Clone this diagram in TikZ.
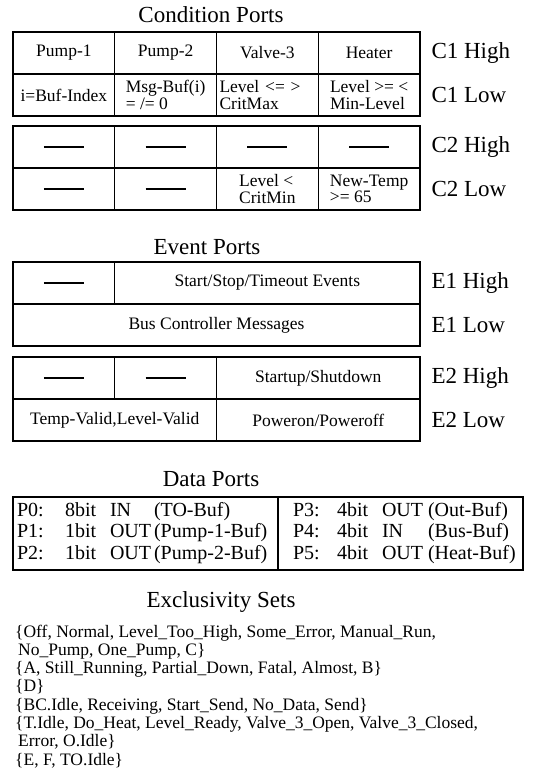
\documentclass[tikz,border=0pt]{standalone}
\usepackage{fontspec}
\setmainfont{Liberation Serif}
\newcommand{\emptymark}{\rule{40pt}{2.6pt}}
\begin{document}
\begin{tikzpicture}[x=1pt,y=-1pt,
  title/.style={font=\fontsize{23}{26}\selectfont},
  lab/.style={font=\fontsize{23}{26}\selectfont, anchor=west},
  cell/.style={draw, line width=1.2pt, minimum height=42pt, inner sep=0pt,
    font=\fontsize{17.5}{16.5}\selectfont, align=center},
  two/.style={align=left},
  ptxt/.style={font=\fontsize{20}{21.5}\selectfont},
  etxt/.style={font=\fontsize{17.5}{18}\selectfont, anchor=base west, inner sep=0pt}
]
\useasboundingbox (0,0) rectangle (536,771);

% ---------------- Condition Ports
\node[title] (tc) at (211,15) {Condition Ports};
\node[cell, minimum width=101.75pt] (c11) at (63.875,53) {Pump-1};
\node[cell, minimum width=101.75pt] (c12) at (165.625,53) {Pump-2};
\node[cell, minimum width=101.75pt] (c13) at (267.375,53) {Valve-3};
\node[cell, minimum width=101.75pt] (c14) at (369.125,53) {Heater};
\node[cell, minimum width=101.75pt] (c15) at (63.875,95) {i=Buf-Index};
\node[cell, two, minimum width=101.75pt] (c16) at (165.625,95) {Msg-Buf(i)\\= /= 0};
\node[cell, two, text width=95.75pt, inner xsep=3pt] (c17) at (267.375,95) {Level <= >\\CritMax};
\node[cell, two, minimum width=101.75pt] (c18) at (369.125,95) {Level >= <\\Min-Level};
\node[lab] (l1) at (428,53) {C1 High};
\node[lab] (l2) at (428,95) {C1 Low};

\node[cell, minimum width=101.75pt] (c21) at (63.875,147) {\emptymark};
\node[cell, minimum width=101.75pt] (c22) at (165.625,147) {\emptymark};
\node[cell, minimum width=101.75pt] (c23) at (267.375,147) {\emptymark};
\node[cell, minimum width=101.75pt] (c24) at (369.125,147) {\emptymark};
\node[cell, minimum width=101.75pt] (c25) at (63.875,189) {\emptymark};
\node[cell, minimum width=101.75pt] (c26) at (165.625,189) {\emptymark};
\node[cell, two, minimum width=101.75pt] (c27) at (267.375,189) {Level <\\CritMin};
\node[cell, two, minimum width=101.75pt] (c28) at (369.125,189) {New-Temp\\>= 65};
\node[lab] (l3) at (428,147) {C2 High};
\node[lab] (l4) at (428,189) {C2 Low};

% ---------------- Event Ports
\node[title] (te) at (207,247) {Event Ports};
\node[cell, minimum width=101.75pt] (e11) at (63.875,283) {\emptymark};
\node[cell, minimum width=305.25pt] (e12) at (267.375,283) {Start/Stop/Timeout Events};
\node[cell, minimum width=407pt] (e13) at (216.5,325) {Bus Controller Messages};
\node[lab] (l5) at (428,283) {E1 High};
\node[lab] (l6) at (428,325) {E1 Low};

\node[cell, minimum width=101.75pt] (e21) at (63.875,378) {\emptymark};
\node[cell, minimum width=101.75pt] (e22) at (165.625,378) {\emptymark};
\node[cell, minimum width=203.5pt] (e23) at (318.25,378) {Startup/Shutdown};
\node[cell, minimum width=203.5pt] (e24) at (114.75,420) {Temp-Valid,Level-Valid};
\node[cell, minimum width=203.5pt] (e25) at (318.25,420) {Poweron/Poweroff};
\node[lab] (l7) at (428,378) {E2 High};
\node[lab] (l8) at (428,420) {E2 Low};

% ---------------- Data Ports
\node[title] (td) at (211,479) {Data Ports};
\node[cell, ptxt, align=left, text width=257pt, inner xsep=4pt, minimum height=73pt] (d1) at (145.5,533.5)
 {\begin{tabular}{@{}p{48pt}@{}p{45pt}@{}p{44pt}@{}l@{}}
  P0: & 8bit & IN & (TO-Buf)\\
  P1: & 1bit & OUT & (Pump-1-Buf)\\
  P2: & 1bit & OUT & (Pump-2-Buf)
  \end{tabular}};
\node[cell, ptxt, align=left, text width=215pt, inner xsep=15pt, minimum height=73pt] (d2) at (400.5,533.5)
 {\begin{tabular}{@{}p{44pt}@{}p{45pt}@{}p{46pt}@{}l@{}}
  P3: & 4bit & OUT & (Out-Buf)\\
  P4: & 4bit & IN & (Bus-Buf)\\
  P5: & 4bit & OUT & (Heat-Buf)
  \end{tabular}};

% ---------------- Exclusivity Sets
\node[title] (tx) at (221,602) {Exclusivity Sets};
\node[etxt] (x1) at (15,637) {\{Off, Normal, Level\_Too\_High, Some\_Error, Manual\_Run,};
\node[etxt] (x2) at (18,655.3) {No\_Pump, One\_Pump, C\}};
\node[etxt] (x3) at (15,673.6) {\{A, Still\_Running, Partial\_Down, Fatal, Almost, B\}};
\node[etxt] (x4) at (15,691.9) {\{D\}};
\node[etxt] (x5) at (15,710.2) {\{BC.Idle, Receiving, Start\_Send, No\_Data, Send\}};
\node[etxt] (x6) at (15,728.5) {\{T.Idle, Do\_Heat, Level\_Ready, Valve\_3\_Open, Valve\_3\_Closed,};
\node[etxt] (x7) at (18,746.8) {Error, O.Idle\}};
\node[etxt] (x8) at (15,765.1) {\{E, F, TO.Idle\}};
\end{tikzpicture}
\end{document}
